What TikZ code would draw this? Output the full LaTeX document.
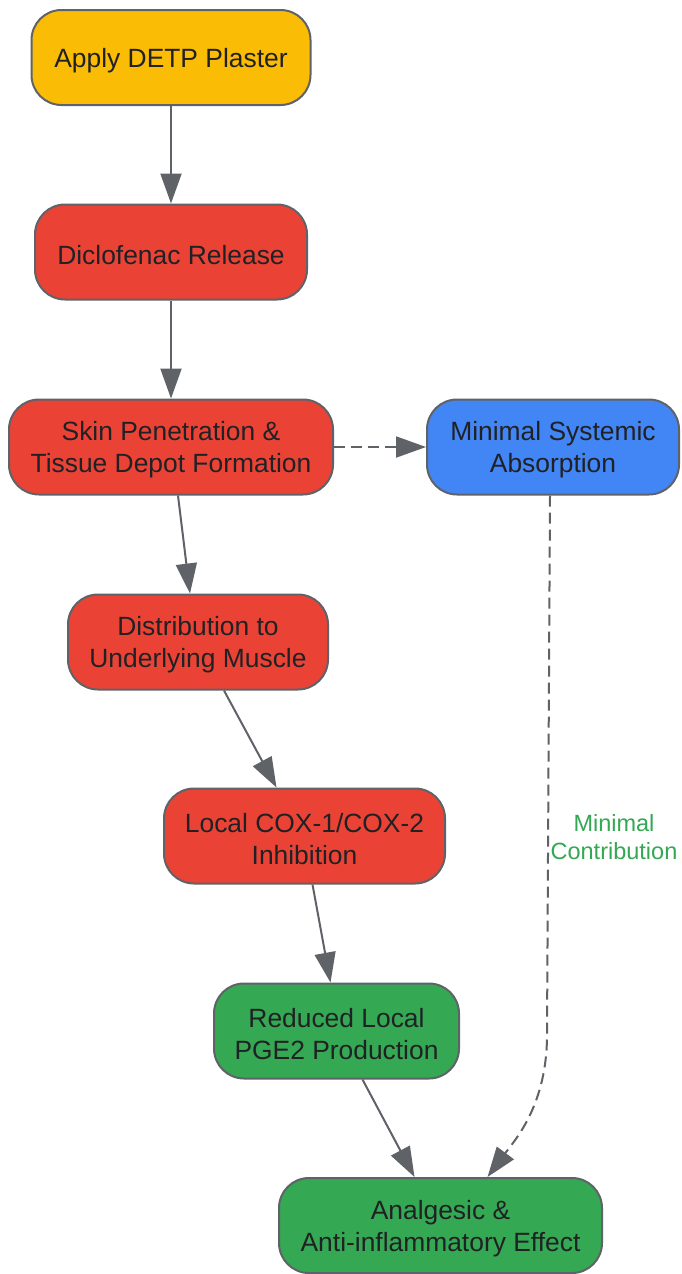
\documentclass[tikz,border=0pt]{standalone}
\usepackage{fontspec}
\setmainfont{Liberation Sans}
\usetikzlibrary{arrows.meta}
\definecolor{cyellow}{HTML}{FBBC05}
\definecolor{cred}{HTML}{EA4335}
\definecolor{cblue}{HTML}{4285F4}
\definecolor{cgreen}{HTML}{34A853}
\definecolor{cedge}{HTML}{5F6368}
\definecolor{ctext}{HTML}{202124}
\newcommand\tstrutx{\rule{0pt}{25pt}}
\begin{document}
\begin{tikzpicture}[x=1pt,y=-1pt,
  box/.style={draw=cedge, line width=2pt, rounded corners=30pt, minimum height=95pt,
    inner sep=0pt, align=center, text=ctext, font=\fontsize{26.4}{32}\selectfont},
  arr/.style={draw=cedge, line width=2pt, -{Triangle[length=30pt,width=21pt]}},
  darr/.style={arr, dash pattern=on 11pt off 6pt}
]
\fill[white] (0,0) rectangle (681,1274);
\useasboundingbox (0,0) rectangle (681,1274);

\node[box, fill=cyellow, minimum width=279pt] (apply) at (171,57.5) {\tstrutx Apply DETP Plaster};
\node[box, fill=cred, minimum width=272pt] (rel) at (171,252) {\tstrutx Diclofenac Release};
\node[box, fill=cred, minimum width=324pt] (skin) at (171,447) {\tstrutx Skin Penetration \&\\Tissue Depot Formation};
\node[box, fill=cblue, minimum width=252pt] (sys) at (553,447) {\tstrutx Minimal Systemic\\Absorption};
\node[box, fill=cred, minimum width=260pt] (dist) at (198,642) {\tstrutx Distribution to\\Underlying Muscle};
\node[box, fill=cred, minimum width=281pt] (cox) at (304.5,836) {\tstrutx Local COX-1/COX-2\\Inhibition};
\node[box, fill=cgreen, minimum width=245pt] (pge) at (336.5,1031) {\tstrutx Reduced Local\\PGE2 Production};
\node[box, fill=cgreen, minimum width=323pt] (an) at (440.5,1225.5) {\tstrutx Analgesic \&\\Anti-inflammatory Effect};

\draw[arr] (apply.south) -- (rel.north);
\draw[arr] (rel.south) -- (skin.north);
\draw[darr] (skin.east) -- (sys.west);
\draw[arr] ([xshift=7pt]skin.south) -- ([xshift=-8pt]dist.north);
\draw[arr] ([xshift=26pt]dist.south) -- ([xshift=-28pt]cox.north);
\draw[arr] ([xshift=8pt]cox.south) -- ([xshift=-6pt]pge.north);
\draw[arr] ([xshift=26pt]pge.south) -- ([xshift=-26pt]an.north);
\coordinate (bend) at (547,1035);
\draw[darr] ([xshift=-3pt]sys.south) -- (bend) .. controls (547,1105) and (515,1140) .. ([xshift=47pt]an.north);
\node[text=cgreen, align=center, font=\fontsize{23.5}{28}\selectfont] (lbl) at (614,837) {Minimal\\Contribution};
\end{tikzpicture}
\end{document}
